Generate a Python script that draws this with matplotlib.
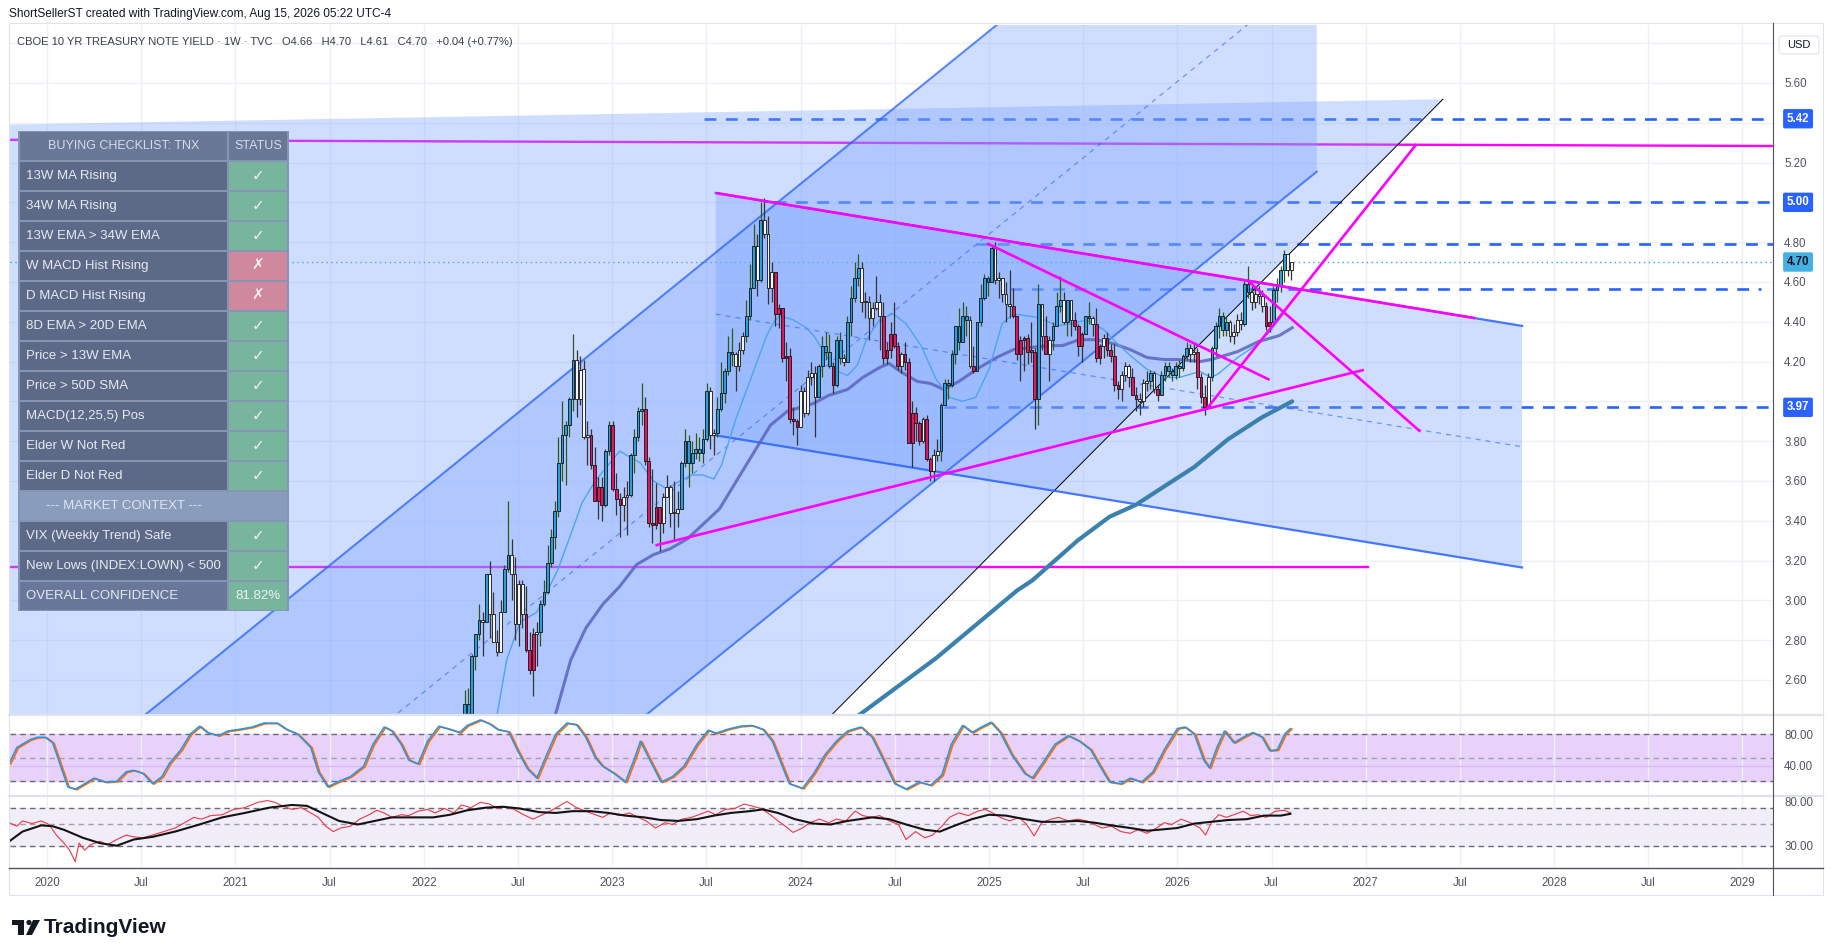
import numpy as np
import pandas as pd
import matplotlib
matplotlib.use("Agg")
import matplotlib.pyplot as plt
from matplotlib.patches import Rectangle, Polygon, Circle, FancyBboxPatch
from matplotlib import transforms

plt.rcParams['font.family'] = ['Liberation Sans', 'DejaVu Sans']

# ---------------- weekly candles, TVC:TNX, weeks starting 2022-01-03 ----------------
first_open = 1.51
closes = [
    # 2022
    1.77, 1.78, 1.75, 1.78, 1.92, 1.94, 1.93, 1.97, 1.74, 2.00, 2.15, 2.48, 2.38, 2.72, 2.83, 2.90, 2.89, 3.13,
    2.93, 2.79, 2.74, 2.94, 3.16, 3.23, 3.13, 2.88, 3.08, 2.93, 2.75, 2.65, 2.83, 2.84, 2.98, 3.04, 3.19, 3.32,
    3.45, 3.69, 3.83, 3.88, 4.01, 4.21, 4.01, 4.16, 3.82, 3.83, 3.68, 3.50, 3.57, 3.48, 3.75, 3.88,
    # 2023
    3.56, 3.51, 3.48, 3.52, 3.53, 3.73, 3.82, 3.95, 3.96, 3.70, 3.39, 3.38, 3.47, 3.39, 3.52, 3.57, 3.44, 3.44,
    3.46, 3.69, 3.80, 3.69, 3.74, 3.76, 3.74, 3.81, 4.05, 3.83, 3.84, 3.96, 4.04, 4.15, 4.25, 4.24, 4.18, 4.26,
    4.33, 4.43, 4.57, 4.78, 4.61, 4.91, 4.84, 4.57, 4.65, 4.44, 4.47, 4.22, 4.23, 3.91, 3.90, 3.87,
    # 2024
    4.05, 3.94, 4.12, 4.14, 4.02, 4.18, 4.28, 4.25, 4.18, 4.08, 4.31, 4.22, 4.20, 4.40, 4.52, 4.62, 4.67, 4.50,
    4.50, 4.42, 4.47, 4.50, 4.43, 4.22, 4.26, 4.34, 4.28, 4.18, 4.24, 4.20, 3.79, 3.94, 3.89, 3.80, 3.91, 3.71,
    3.65, 3.73, 3.75, 3.98, 4.09, 4.08, 4.24, 4.38, 4.30, 4.43, 4.41, 4.18, 4.15, 4.40, 4.52, 4.62, 4.60,
    # 2025
    4.77, 4.61, 4.62, 4.54, 4.49, 4.48, 4.43, 4.24, 4.31, 4.32, 4.25, 4.25, 4.01, 4.49, 4.33, 4.24, 4.31, 4.38,
    4.48, 4.51, 4.40, 4.51, 4.41, 4.38, 4.28, 4.34, 4.43, 4.42, 4.39, 4.22, 4.28, 4.32, 4.26, 4.23, 4.08, 4.06,
    4.13, 4.18, 4.12, 4.03, 4.01, 4.00, 4.09, 4.10, 4.14, 4.06, 4.03, 4.13, 4.18, 4.15, 4.13, 4.18,
    # 2026
    4.17, 4.23, 4.27, 4.24, 4.25, 4.12, 4.02, 3.97, 4.12, 4.27, 4.38, 4.43, 4.36, 4.40, 4.33, 4.35, 4.41, 4.39,
    4.59, 4.55, 4.50, 4.54, 4.53, 4.48, 4.38, 4.40, 4.56, 4.58, 4.66, 4.74, 4.66, 4.70,
]
highs = [
    1.80, 1.81, 1.90, 1.87, 1.93, 2.05, 2.07, 2.00, 1.97, 2.01, 2.24, 2.55, 2.56, 2.73, 2.83, 2.98, 2.94, 3.13,
    3.20, 3.04, 2.85, 3.00, 3.18, 3.50, 3.31, 3.22, 3.10, 3.10, 3.07, 2.84, 2.86, 2.89, 3.00, 3.10, 3.28, 3.36,
    3.50, 3.82, 4.00, 3.90, 4.02, 4.34, 4.26, 4.23, 4.21, 3.90, 3.86, 3.77, 3.62, 3.62, 3.76, 3.90,
    3.90, 3.64, 3.54, 3.57, 3.60, 3.74, 3.86, 3.97, 4.09, 4.02, 3.72, 3.66, 3.59, 3.47, 3.54, 3.63, 3.58, 3.60,
    3.55, 3.70, 3.86, 3.83, 3.80, 3.84, 3.82, 3.86, 4.09, 4.07, 3.86, 4.02, 4.20, 4.17, 4.33, 4.37, 4.25, 4.30,
    4.35, 4.51, 4.69, 4.89, 4.84, 5.00, 5.02, 4.93, 4.70, 4.65, 4.49, 4.47, 4.30, 4.27, 3.97, 3.91,
    4.08, 4.07, 4.16, 4.20, 4.18, 4.19, 4.33, 4.35, 4.34, 4.20, 4.33, 4.35, 4.24, 4.43, 4.58, 4.70, 4.74, 4.70,
    4.55, 4.53, 4.50, 4.63, 4.54, 4.50, 4.30, 4.40, 4.50, 4.30, 4.25, 4.30, 4.22, 4.00, 3.97, 3.90, 3.92, 3.93,
    3.72, 3.76, 3.81, 3.99, 4.11, 4.11, 4.26, 4.38, 4.47, 4.50, 4.48, 4.43, 4.28, 4.40, 4.59, 4.64, 4.63,
    4.79, 4.80, 4.65, 4.62, 4.60, 4.66, 4.57, 4.43, 4.33, 4.33, 4.34, 4.40, 4.27, 4.59, 4.49, 4.43, 4.33, 4.40,
    4.55, 4.63, 4.55, 4.51, 4.51, 4.45, 4.39, 4.35, 4.43, 4.50, 4.43, 4.47, 4.29, 4.34, 4.35, 4.29, 4.29, 4.10,
    4.15, 4.20, 4.19, 4.17, 4.07, 4.04, 4.11, 4.15, 4.16, 4.15, 4.08, 4.15, 4.20, 4.20, 4.17, 4.20,
    4.21, 4.24, 4.30, 4.29, 4.30, 4.27, 4.14, 4.08, 4.14, 4.28, 4.40, 4.47, 4.45, 4.43, 4.41, 4.39, 4.44, 4.45,
    4.61, 4.68, 4.58, 4.57, 4.58, 4.56, 4.50, 4.48, 4.58, 4.62, 4.68, 4.76, 4.74, 4.70,
]
lows = [
    1.50, 1.70, 1.73, 1.73, 1.77, 1.90, 1.92, 1.85, 1.68, 1.72, 2.00, 2.13, 2.30, 2.38, 2.65, 2.80, 2.72, 2.89,
    2.81, 2.79, 2.72, 2.74, 2.96, 3.14, 3.00, 2.80, 2.77, 2.86, 2.74, 2.63, 2.52, 2.67, 2.77, 2.97, 3.03, 3.17,
    3.26, 3.42, 3.60, 3.58, 3.82, 3.95, 3.92, 3.98, 3.81, 3.68, 3.66, 3.50, 3.41, 3.40, 3.47, 3.73,
    3.55, 3.43, 3.32, 3.40, 3.33, 3.52, 3.64, 3.80, 3.88, 3.68, 3.37, 3.29, 3.36, 3.25, 3.34, 3.52, 3.37, 3.30,
    3.37, 3.46, 3.67, 3.57, 3.64, 3.71, 3.70, 3.69, 3.80, 3.76, 3.73, 3.82, 3.95, 3.99, 4.13, 4.18, 4.05, 4.15,
    4.24, 4.30, 4.41, 4.57, 4.53, 4.60, 4.82, 4.49, 4.50, 4.38, 4.37, 4.20, 4.10, 3.89, 3.83, 3.78,
    3.87, 3.92, 3.93, 4.08, 3.82, 4.02, 4.12, 4.21, 4.17, 4.04, 4.07, 4.19, 4.18, 4.21, 4.33, 4.50, 4.58, 4.45,
    4.42, 4.31, 4.38, 4.46, 4.26, 4.19, 4.19, 4.22, 4.27, 4.16, 4.14, 4.16, 3.79, 3.67, 3.80, 3.78, 3.79, 3.70,
    3.60, 3.60, 3.70, 3.70, 3.98, 4.01, 4.07, 4.19, 4.26, 4.30, 4.33, 4.17, 4.14, 4.15, 4.38, 4.51, 4.53,
    4.60, 4.59, 4.52, 4.50, 4.40, 4.42, 4.42, 4.21, 4.10, 4.15, 4.19, 4.20, 3.86, 3.88, 4.26, 4.24, 4.10, 4.26,
    4.38, 4.45, 4.39, 4.33, 4.33, 4.36, 4.23, 4.20, 4.34, 4.39, 4.33, 4.20, 4.19, 4.22, 4.23, 4.20, 4.05, 4.01,
    4.00, 4.10, 4.07, 4.03, 3.95, 3.93, 3.97, 4.05, 4.06, 4.04, 4.00, 4.03, 4.10, 4.12, 4.10, 4.11,
    4.12, 4.15, 4.21, 4.20, 4.20, 4.06, 3.99, 3.93, 3.97, 4.10, 4.23, 4.32, 4.33, 4.33, 4.30, 4.29, 4.33, 4.36,
    4.38, 4.52, 4.46, 4.47, 4.49, 4.45, 4.36, 4.35, 4.40, 4.50, 4.55, 4.60, 4.63, 4.61,
]

# moving averages (decimal year, yield)
ma_fast_t = [2022.30, 2022.39, 2022.44, 2022.51, 2022.60, 2022.71, 2022.78, 2022.84, 2022.91, 2023.04, 2023.15,
             2023.22, 2023.29, 2023.36, 2023.42, 2023.48, 2023.54, 2023.58, 2023.66, 2023.75, 2023.82, 2023.86,
             2023.89, 2023.96, 2024.03, 2024.07, 2024.15, 2024.20, 2024.25, 2024.30, 2024.35, 2024.42, 2024.49,
             2024.56, 2024.64, 2024.72, 2024.79, 2024.86, 2024.93, 2025.00, 2025.07, 2025.13, 2025.20, 2025.27,
             2025.36, 2025.44, 2025.52, 2025.61, 2025.66, 2025.75, 2025.84, 2025.93, 2026.01, 2026.12, 2026.18,
             2026.22, 2026.32, 2026.43, 2026.49, 2026.54, 2026.60]
ma_fast_v = [2.20, 2.43, 2.70, 2.89, 2.94, 3.15, 3.33, 3.49, 3.60, 3.75, 3.69,
             3.60, 3.56, 3.60, 3.63, 3.63, 3.61, 3.68, 3.92, 4.15, 4.33, 4.40,
             4.43, 4.41, 4.37, 4.33, 4.21, 4.15, 4.13, 4.18, 4.31, 4.41, 4.44,
             4.39, 4.28, 4.11, 4.02, 4.00, 4.02, 4.16, 4.39, 4.44, 4.43, 4.42,
             4.38, 4.39, 4.41, 4.36, 4.31, 4.23, 4.16, 4.12, 4.12, 4.15, 4.12,
             4.14, 4.22, 4.29, 4.35, 4.41, 4.49]
ma_mid_t = [2022.62, 2022.70, 2022.78, 2022.86, 2022.95, 2023.04, 2023.13, 2023.22, 2023.31, 2023.40, 2023.48,
            2023.57, 2023.66, 2023.75, 2023.84, 2023.93, 2024.00, 2024.07, 2024.15, 2024.25, 2024.33, 2024.42,
            2024.47, 2024.53, 2024.62, 2024.69, 2024.76, 2024.84, 2024.95, 2025.04, 2025.13, 2025.31, 2025.39,
            2025.48, 2025.57, 2025.66, 2025.75, 2025.84, 2025.93, 2026.01, 2026.12, 2026.18, 2026.32, 2026.43,
            2026.54, 2026.61]
ma_mid_v = [2.25, 2.43, 2.70, 2.86, 2.98, 3.07, 3.18, 3.23, 3.26, 3.31, 3.38,
            3.46, 3.60, 3.74, 3.88, 3.95, 3.97, 3.99, 4.03, 4.06, 4.12, 4.17,
            4.19, 4.15, 4.10, 4.09, 4.06, 4.10, 4.17, 4.22, 4.26, 4.28, 4.28,
            4.31, 4.31, 4.29, 4.26, 4.22, 4.21, 4.21, 4.20, 4.21, 4.25, 4.30,
            4.33, 4.37]
ma_long_t = [2024.15, 2024.32, 2024.72, 2025.15, 2025.23, 2025.47, 2025.64, 2025.78, 2025.91, 2026.09, 2026.27,
             2026.45, 2026.61]
ma_long_v = [2.32, 2.43, 2.71, 3.05, 3.10, 3.30, 3.42, 3.48, 3.56, 3.67, 3.81, 3.92, 4.00]

# stochastic pane (%K)
stoch_t = [2019.80, 2019.84, 2019.91, 2019.95, 2019.99, 2020.03, 2020.07, 2020.11, 2020.15, 2020.20,
           2020.25, 2020.31, 2020.37, 2020.42, 2020.46, 2020.51, 2020.56, 2020.61, 2020.65, 2020.71,
           2020.76, 2020.81, 2020.85, 2020.91, 2020.96, 2021.02, 2021.09, 2021.15, 2021.22, 2021.27,
           2021.33, 2021.40, 2021.44, 2021.49, 2021.55, 2021.61, 2021.68, 2021.73, 2021.79, 2021.83,
           2021.88, 2021.92, 2021.97, 2022.02, 2022.08, 2022.14, 2022.19, 2022.23, 2022.30, 2022.35,
           2022.39, 2022.45, 2022.50, 2022.55, 2022.60, 2022.64, 2022.70, 2022.76, 2022.81, 2022.86,
           2022.91, 2022.95, 2023.01, 2023.07, 2023.12, 2023.15, 2023.20, 2023.26, 2023.32, 2023.38,
           2023.45, 2023.51, 2023.55, 2023.61, 2023.68, 2023.74, 2023.80, 2023.85, 2023.90, 2023.94,
           2024.01, 2024.07, 2024.13, 2024.19, 2024.25, 2024.32, 2024.38, 2024.44, 2024.50, 2024.56,
           2024.63, 2024.69, 2024.75, 2024.80, 2024.86, 2024.91, 2024.96, 2025.01, 2025.06, 2025.12,
           2025.19, 2025.23, 2025.29, 2025.35, 2025.42, 2025.48, 2025.54, 2025.59, 2025.64, 2025.70,
           2025.75, 2025.81, 2025.87, 2025.93, 2026.00, 2026.04, 2026.09, 2026.14, 2026.17, 2026.21,
           2026.25, 2026.30, 2026.35, 2026.40, 2026.45, 2026.49, 2026.53, 2026.57, 2026.60]
stoch_k = [43, 63, 73, 76, 76, 69, 41, 13, 10, 17,
           24, 19, 20, 32, 34, 30, 17, 26, 43, 60,
           80, 90, 82, 78, 84, 86, 89, 94, 94, 86,
           80, 63, 32, 13, 20, 26, 39, 67, 89, 84,
           67, 47, 42, 71, 90, 86, 82, 91, 98, 93,
           86, 83, 58, 36, 24, 47, 80, 94, 92, 76,
           50, 39, 30, 19, 50, 71, 47, 19, 26, 39,
           67, 85, 81, 86, 90, 91, 86, 71, 41, 17,
           11, 30, 54, 71, 84, 89, 76, 47, 17, 10,
           19, 15, 28, 67, 91, 82, 89, 95, 82, 54,
           30, 24, 45, 67, 78, 71, 60, 39, 19, 17,
           24, 19, 32, 60, 87, 89, 80, 47, 37, 63,
           84, 69, 76, 82, 76, 59, 60, 80, 87]

# RSI pane
rsi_t = [2019.80, 2019.84, 2019.87, 2019.92, 2019.97, 2020.01, 2020.05, 2020.09, 2020.12, 2020.15,
         2020.17, 2020.20, 2020.23, 2020.28, 2020.32, 2020.37, 2020.42, 2020.46, 2020.51, 2020.56,
         2020.62, 2020.68, 2020.73, 2020.78, 2020.82, 2020.87, 2020.93, 2020.99, 2021.05, 2021.12,
         2021.17, 2021.21, 2021.25, 2021.30, 2021.35, 2021.40, 2021.44, 2021.48, 2021.52, 2021.56,
         2021.61, 2021.66, 2021.71, 2021.75, 2021.79, 2021.83, 2021.88, 2021.92, 2021.97, 2022.02,
         2022.06, 2022.11, 2022.16, 2022.20, 2022.25, 2022.30, 2022.35, 2022.39, 2022.43, 2022.48,
         2022.53, 2022.58, 2022.62, 2022.67, 2022.72, 2022.76, 2022.81, 2022.86, 2022.91, 2022.95,
         2022.99, 2023.04, 2023.09, 2023.14, 2023.18, 2023.23, 2023.28, 2023.32, 2023.37, 2023.42,
         2023.46, 2023.51, 2023.55, 2023.60, 2023.65, 2023.70, 2023.74, 2023.79, 2023.84, 2023.88,
         2023.92, 2023.96, 2024.01, 2024.05, 2024.10, 2024.15, 2024.19, 2024.24, 2024.29, 2024.33,
         2024.38, 2024.42, 2024.47, 2024.52, 2024.56, 2024.61, 2024.66, 2024.70, 2024.75, 2024.79,
         2024.84, 2024.89, 2024.94, 2024.98, 2025.02, 2025.06, 2025.11, 2025.16, 2025.20, 2025.24,
         2025.28, 2025.33, 2025.37, 2025.42, 2025.47, 2025.52, 2025.56, 2025.60, 2025.65, 2025.70,
         2025.75, 2025.79, 2025.84, 2025.89, 2025.93, 2025.97, 2026.02, 2026.07, 2026.12, 2026.15,
         2026.18, 2026.22, 2026.26, 2026.30, 2026.35, 2026.39, 2026.43, 2026.47, 2026.52, 2026.57,
         2026.60]
rsi_v = [56, 52, 58, 55, 58, 54, 42, 33, 25, 12,
         33, 25, 31, 35, 31, 37, 42, 40, 39, 42,
         46, 50, 56, 62, 60, 64, 65, 71, 73, 79,
         81, 79, 75, 71, 73, 67, 62, 52, 46, 50,
         52, 60, 65, 70, 67, 62, 65, 64, 69, 71,
         67, 72, 67, 76, 73, 79, 77, 72, 74, 71,
         65, 60, 64, 69, 75, 80, 73, 69, 65, 62,
         67, 64, 67, 62, 58, 50, 56, 54, 60, 62,
         65, 69, 65, 71, 72, 77, 75, 72, 65, 58,
         52, 45, 50, 56, 60, 56, 60, 58, 69, 64,
         62, 64, 58, 54, 37, 46, 39, 42, 52, 62,
         67, 64, 69, 71, 67, 62, 58, 62, 54, 41,
         56, 60, 62, 58, 60, 58, 54, 50, 52, 46,
         44, 48, 44, 50, 56, 54, 60, 56, 50, 42,
         56, 65, 62, 65, 69, 64, 65, 62, 69, 70,
         67]
rsi_ma_t = [2019.80, 2019.87, 2019.97, 2020.03, 2020.09, 2020.19, 2020.28, 2020.37, 2020.46, 2020.56,
            2020.68, 2020.81, 2020.93, 2021.05, 2021.18, 2021.30, 2021.38, 2021.46, 2021.55, 2021.65,
            2021.74, 2021.83, 2021.92, 2022.05, 2022.14, 2022.23, 2022.33, 2022.42, 2022.51, 2022.61,
            2022.70, 2022.79, 2022.89, 2022.98, 2023.07, 2023.17, 2023.26, 2023.35, 2023.45, 2023.54,
            2023.63, 2023.73, 2023.80, 2023.88, 2023.97, 2024.07, 2024.16, 2024.25, 2024.38, 2024.47,
            2024.56, 2024.66, 2024.74, 2024.81, 2024.91, 2025.00, 2025.09, 2025.19, 2025.28, 2025.37,
            2025.47, 2025.56, 2025.65, 2025.75, 2025.84, 2025.90, 2026.00, 2026.09, 2026.18, 2026.27,
            2026.37, 2026.46, 2026.55, 2026.60]
rsi_ma_v = [35, 46, 53, 52, 48, 39, 33, 30, 37, 40,
            46, 54, 62, 67, 73, 76, 75, 67, 58, 54,
            58, 62, 62, 62, 65, 70, 73, 74, 72, 68,
            67, 69, 69, 67, 64, 62, 59, 58, 60, 64,
            67, 69, 71, 67, 60, 55, 54, 58, 62, 60,
            54, 48, 46, 52, 60, 65, 64, 60, 57, 57,
            58, 56, 53, 50, 47, 48, 50, 55, 57, 59,
            60, 64, 64, 66]

# drawing tools on the chart: (decimal year, yield)
wedge_top = [(2019.00, 5.377), (2027.41, 5.518)]
steep_line = [(2027.41, 5.518), (2023.72, 2.00)]
rise_lower = [(2019.50, -0.398), (2026.74, 5.154)]
rise_width = 2.04
fall_upper = [(2023.55, 5.047), (2027.83, 4.379)]
fall_lower = [(2023.55, 3.829), (2027.83, 3.165)]
pink_lines = [
    [(2023.55, 5.047), (2027.58, 4.418)],
    [(2023.23, 3.276), (2026.99, 4.158)],
    [(2024.99, 4.794), (2026.49, 4.108)],
    [(2026.38, 4.601), (2027.29, 3.848)],
    [(2026.16, 3.967), (2027.27, 5.293)],
]
pink_levels = [[(2019.80, 5.314), (2029.17, 5.283)], [(2019.80, 3.170), (2027.01, 3.170)]]
level_lines = [(5.42, 2023.49, 2029.17), (5.00, 2023.86, 2029.17), (4.79, 2024.93, 2029.17),
               (4.565, 2025.11, 2029.10), (3.973, 2024.76, 2029.17)]
badges = [(5.42, '#2962ff', 'white'), (5.00, '#2962ff', 'white'), (4.70, '#44b1e4', '#131722'),
          (3.97, '#2962ff', 'white')]
last_price = 4.70

check_rows = ['13W MA Rising', '34W MA Rising', '13W EMA > 34W EMA', 'W MACD Hist Rising',
              'D MACD Hist Rising', '8D EMA > 20D EMA', 'Price > 13W EMA', 'Price > 50D SMA',
              'MACD(12,25,5) Pos', 'Elder W Not Red', 'Elder D Not Red']
check_pass = [True, True, True, False, False, True, True, True, True, True, True]
context_rows = ['VIX (Weekly Trend) Safe', 'New Lows (INDEX:LOWN) < 500']
context_pass = [True, True]
confidence = '81.82%'

# ---------------- figure ----------------
W, H = 1835, 951
fig = plt.figure(figsize=(W / 100, H / 100), dpi=100)
fig.patch.set_facecolor('white')


def box(x0, y0, x1, y1):
    return [x0 / W, 1 - y1 / H, (x1 - x0) / W, (y1 - y0) / H]


X0, X1 = 9.5, 1773
ax = fig.add_axes(box(X0, 25, X1, 714))
ax_st = fig.add_axes(box(X0, 716, X1, 795), sharex=ax)
ax_rsi = fig.add_axes(box(X0, 797, X1, 867), sharex=ax)

ax.set_xlim(2019.801, 2029.162)
ax.set_ylim(2.429, 5.891)
ax_st.set_ylim(2.6, 103)
ax_rsi.set_ylim(6, 85)

grid_c = '#edf0f5'
xt = np.arange(2020.0, 2029.01, 0.5)
xl = [str(int(v)) if v % 1 == 0 else 'Jul' for v in xt]
for a in (ax, ax_st, ax_rsi):
    a.set_axisbelow(True)
    for s in a.spines.values():
        s.set_visible(False)
    a.set_xticks(xt)
    a.grid(True, axis='x', color=grid_c, lw=1)
    a.tick_params(axis='x', length=0, labelbottom=False)
    a.yaxis.tick_right()
    a.tick_params(axis='y', length=0, pad=8, labelsize=8.3, labelcolor='#50535e')
ax_rsi.set_xticklabels(xl)
ax_rsi.tick_params(axis='x', labelbottom=True, pad=7, labelsize=8.3, labelcolor='#50535e')

yt = np.round(np.arange(2.6, 5.81, 0.2), 2)
ax.set_yticks(yt)
ax.set_yticklabels(['' if v in (4.0, 5.0, 5.4, 5.8) else f'{v:.2f}' for v in yt])
ax.grid(True, axis='y', color=grid_c, lw=1)

# horizontal levels (under the fills)
for p, a0, a1 in level_lines:
    ax.plot([a0, a1], [p, p], color='#2962ff', lw=1.9, dashes=(4.5, 3.6), zorder=1)
for seg in pink_levels:
    ax.plot(*zip(*seg), color='#ff00ff', lw=1.7, zorder=1)
ax.axhline(last_price, color='#29a8e0', lw=1, dashes=(1, 2.5), zorder=1)

fill_c = (0.47, 0.63, 1.0)
# wedge-like shape with the thin black edge
(wx0, wy0), (wx1, wy1) = wedge_top
(sx0, sy0), (sx1, sy1) = steep_line
ax.add_patch(Polygon([(wx0, wy0), (wx1, wy1), (sx1, sy1), (wx0, sy1)], closed=True,
                     fc=fill_c, alpha=0.35, ec='none', zorder=2))
ax.plot([sx0, sx1], [sy0, sy1], color='black', lw=0.7, zorder=3)

# rising parallel channel
(rx0, ry0), (rx1, ry1) = rise_lower
ax.add_patch(Polygon([(rx0, ry0), (rx1, ry1), (rx1, ry1 + rise_width), (rx0, ry0 + rise_width)],
                     closed=True, fc=fill_c, alpha=0.35, ec='none', zorder=2))
ax.plot([rx0, rx1], [ry0, ry1], color='#2962ff', alpha=0.75, lw=1.5, zorder=3)
ax.plot([rx0, rx1], [ry0 + rise_width, ry1 + rise_width], color='#2962ff', alpha=0.75, lw=1.5, zorder=3)
ax.plot([rx0, rx1], [ry0 + rise_width / 2, ry1 + rise_width / 2], color='#2962ff', alpha=0.6, lw=0.9,
        dashes=(4, 4), zorder=3)

# falling parallel channel
ax.add_patch(Polygon([fall_upper[0], fall_upper[1], fall_lower[1], fall_lower[0]], closed=True,
                     fc=fill_c, alpha=0.35, ec='none', zorder=2))
ax.plot(*zip(*fall_upper), color='#2962ff', alpha=0.85, lw=1.6, zorder=3)
ax.plot(*zip(*fall_lower), color='#2962ff', alpha=0.85, lw=1.6, zorder=3)
mid = [((a[0] + b[0]) / 2, (a[1] + b[1]) / 2) for a, b in zip(fall_upper, fall_lower)]
ax.plot(*zip(*mid), color='#2962ff', alpha=0.6, lw=0.9, dashes=(4, 4), zorder=3)

# moving averages
ax.plot(ma_long_t, ma_long_v, color='#3a82ad', lw=3.0, zorder=3.5, solid_capstyle='round')
ax.plot(ma_mid_t, ma_mid_v, color='#5c64bd', lw=2.2, alpha=0.85, zorder=3.5)
ax.plot(ma_fast_t, ma_fast_v, color='#4fa3f3', lw=1.0, zorder=3.5)

# candles, coloured like an Elder impulse system
dates = pd.date_range('2022-01-03', periods=len(closes), freq='7D')
days = np.where(dates.is_leap_year, 366.0, 365.0)
tt = np.asarray(dates.year, dtype=float) + (np.asarray(dates.dayofyear, dtype=float) - 1) / days
cs = pd.Series(closes, dtype=float)
ema13 = cs.ewm(span=13, adjust=False).mean()
macd = cs.ewm(span=12, adjust=False).mean() - cs.ewm(span=26, adjust=False).mean()
hist = macd - macd.ewm(span=9, adjust=False).mean()
bull = ((ema13.diff() > 0) & (hist.diff() > 0)).to_numpy()
bear = ((ema13.diff() < 0) & (hist.diff() < 0)).to_numpy()
c = cs.to_numpy()
o = np.r_[first_open, c[:-1]]
body_col = np.where(bull, '#2aa0d8', np.where(bear, '#e3155f', '#f4f6fa'))
ax.vlines(tt, lows, highs, colors=np.where(bull, '#2d5a1b', '#333333'), lw=0.9, zorder=4)
ax.bar(tt, np.maximum(np.abs(c - o), 0.006), width=0.0145, bottom=np.minimum(o, c),
       color=body_col, edgecolor='#111111', linewidth=0.6, zorder=4.5)

# diagonal pink trend lines
for seg in pink_lines:
    ax.plot(*zip(*seg), color='#ff00ff', lw=1.9, zorder=5, solid_capstyle='butt')

# price badges
ytr = ax.get_yaxis_transform()
for p, fc, tc in badges:
    ax.text(1.0142, p, f'{p:.2f}', transform=ytr, ha='center', va='center', fontsize=8.3,
            fontweight='bold', color=tc, clip_on=False, zorder=10,
            bbox=dict(boxstyle='round,pad=0.32,rounding_size=0.15', fc=fc, ec='none'))

# stochastic pane
ax_st.axhspan(20, 80, color='#e8d2fb', zorder=0.5)
ax_st.set_yticks([40, 80])
ax_st.set_yticklabels(['40.00', '80.00'])
ax_st.axhline(40, color='#d6bdf0', lw=1, zorder=0.6)
for v, cl in ((80, '#6a6d78'), (20, '#6a6d78'), (50, '#a09fb0')):
    ax_st.axhline(v, color=cl, lw=1, dashes=(4, 3), zorder=1)
shift = transforms.offset_copy(ax_st.transData, fig=fig, x=1.5, y=-0.5, units='dots')
ax_st.plot(stoch_t, stoch_k, color='#ff6d00', lw=1.3, transform=shift, zorder=2)
ax_st.plot(stoch_t, stoch_k, color='#2196f3', lw=1.1, zorder=3)

# RSI pane
ax_rsi.axhspan(30, 73, color='#f1edf9', zorder=0.5)
ax_rsi.set_yticks([30, 80])
ax_rsi.set_yticklabels(['30.00', '80.00'])
for v, cl in ((73, '#6a6d78'), (30, '#6a6d78'), (55, '#a09fb0')):
    ax_rsi.axhline(v, color=cl, lw=1, dashes=(4, 3), zorder=1)
ax_rsi.plot(rsi_t, rsi_v, color='#f23645', lw=0.8, zorder=2)
ax_rsi.plot(rsi_ma_t, rsi_ma_v, color='#131313', lw=1.5, zorder=3)

# ---------------- overlay: frame, texts, table, logo ----------------
ov = fig.add_axes([0, 0, 1, 1])
ov.set_xlim(0, W)
ov.set_ylim(H, 0)
ov.axis('off')
ov.patch.set_alpha(0)

ov.add_patch(Rectangle((8.5, 22.5), 1823 - 8.5, 895 - 22.5, fc='none', ec='#e0e3eb', lw=0.8))
for y in (715, 796):
    ov.plot([8.5, 1823], [y, y], color='#e0e3eb', lw=1.6)
ov.plot([8.5, 1823], [867.5, 867.5], color='#50535e', lw=1.0)
ov.plot([X1, X1], [22.5, 895], color='#50535e', lw=0.8)

ov.add_patch(FancyBboxPatch((1779, 36), 40, 18, boxstyle='round,pad=0,rounding_size=3',
                            fc='white', ec='#e0e3eb', lw=0.8))
ov.text(1799, 45.5, 'USD', ha='center', va='center', fontsize=8, color='#131722')

ov.text(9, 14, 'ShortSellerST created with TradingView.com, Aug 15, 2026 05:22 UTC-4',
        fontsize=8.6, color='#131722', va='center')
ov.text(17, 42, 'CBOE 10 YR TREASURY NOTE YIELD \u00b7 1W \u00b7 TVC   O4.66   H4.70   L4.61   C4.70   +0.04 (+0.77%)',
        fontsize=8, color='#3b3e48', va='center')

# checklist table
ov.add_patch(Rectangle((18, 131), 271, 480, fc='#8596b5', ec='none'))
row_h = 30
c1, c2 = (20, 227), (229, 287)


def cell(xs, i, fc):
    y = 132 + row_h * i
    ov.add_patch(Rectangle((xs[0], y), xs[1] - xs[0], row_h - 2, fc=fc, ec='none'))
    return y + (row_h - 2) / 2


txt = '#e6ebf2'
yc = cell(c1, 0, '#6a7897')
cell(c2, 0, '#6a7897')
ov.text(sum(c1) / 2, yc, 'BUYING CHECKLIST: TNX', ha='center', va='center', fontsize=9, color='#d4dbea')
ov.text(sum(c2) / 2, yc, 'STATUS', ha='center', va='center', fontsize=9, color='#d4dbea')
i = 1
for name, ok in zip(check_rows, check_pass):
    yc = cell(c1, i, '#5c6987')
    cell(c2, i, '#77b69d' if ok else '#cf889d')
    ov.text(26, yc, name, va='center', fontsize=9.5, color=txt)
    ov.text(sum(c2) / 2, yc, '\u2713' if ok else '\u2717', ha='center', va='center', fontsize=11,
            color='#eef2f6')
    i += 1
yc = cell((c1[0], c2[1]), i, '#8a9cbb')
ov.text(sum(c1) / 2, yc, '--- MARKET CONTEXT ---', ha='center', va='center', fontsize=9.5, color='#dfe5ef')
i += 1
for name, ok in zip(context_rows, context_pass):
    yc = cell(c1, i, '#5c6987')
    cell(c2, i, '#77b69d' if ok else '#cf889d')
    ov.text(26, yc, name, va='center', fontsize=9.5, color=txt)
    ov.text(sum(c2) / 2, yc, '\u2713' if ok else '\u2717', ha='center', va='center', fontsize=11,
            color='#eef2f6')
    i += 1
yc = cell(c1, i, '#68779a')
cell(c2, i, '#77b69d')
ov.text(26, yc, 'OVERALL CONFIDENCE', va='center', fontsize=9.5, color=txt)
ov.text(sum(c2) / 2, yc, confidence, ha='center', va='center', fontsize=9.5, color='#eef2f6')

# TradingView logo
ov.add_patch(Rectangle((12, 920), 12, 5, fc='#131722', ec='none'))
ov.add_patch(Rectangle((18, 920), 6, 15, fc='#131722', ec='none'))
ov.add_patch(Circle((29, 922.5), 2.6, fc='#131722', ec='none'))
ov.add_patch(Polygon([(33, 920), (40, 920), (32, 935), (26, 935)], closed=True, fc='#131722', ec='none'))
ov.text(44, 927.5, 'TradingView', fontsize=15, fontweight='bold', color='#131722', va='center')

fig.savefig('out.png', dpi=100)
